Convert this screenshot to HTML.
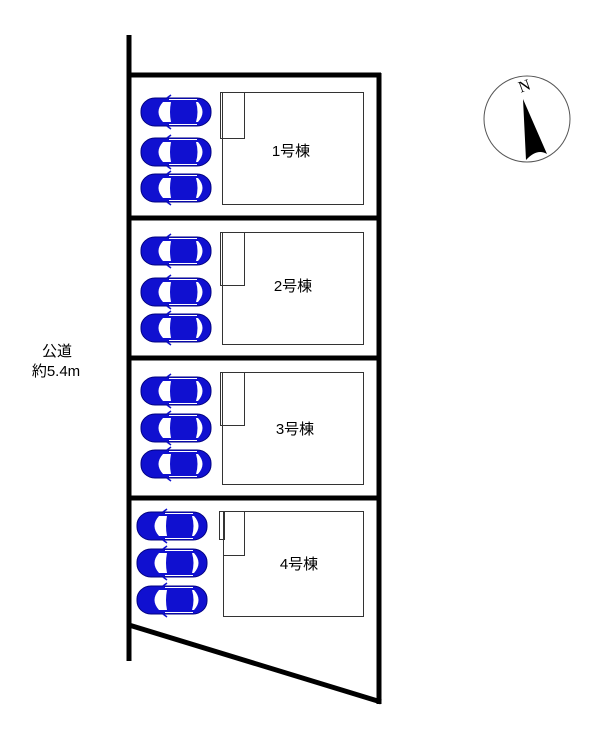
<!DOCTYPE html>
<html><head><meta charset="utf-8"><style>
body{margin:0;background:#fff;}
svg{display:block;}
text{font-family:"Liberation Sans","Noto Sans CJK JP",sans-serif;fill:#000;}
</style></head><body>
<svg width="607" height="741" viewBox="0 0 607 741" xmlns="http://www.w3.org/2000/svg">
<defs>
<g id="car">
  <rect x="0" y="-14" width="70" height="28" rx="14" ry="13" fill="#1010d0" stroke="#000080" stroke-width="1"/>
  <path d="M22,-10 Q13,0 22,10 L30,10 Q28,0 30,-10 Z" fill="#fff"/>
  <path d="M57,-10 Q66,0 57,10 L55,10 Q58,0 55,-10 Z" fill="#fff"/>
  <line x1="28" y1="-12.5" x2="56" y2="-12.5" stroke="#fff" stroke-width="1"/>
  <line x1="28" y1="12.5" x2="56" y2="12.5" stroke="#fff" stroke-width="1"/>
  <path d="M26,-14 L30,-17 M26,14 L30,17" stroke="#1010d0" stroke-width="1.5"/>
</g>
</defs>
<g stroke="#000" stroke-width="5" fill="none">
  <line x1="129" y1="35" x2="129" y2="661"/>
  <line x1="129" y1="75" x2="381" y2="75"/>
  <line x1="379" y1="73" x2="379" y2="704"/>
  <line x1="129" y1="218" x2="381" y2="218"/>
  <line x1="129" y1="358" x2="381" y2="358"/>
  <line x1="129" y1="498" x2="381" y2="498"/>
  <line x1="129" y1="625" x2="381" y2="702"/>
</g>
<g stroke="#333" stroke-width="1" fill="none">
  <rect x="222.5" y="92.5" width="141" height="112"/>
  <rect x="220.5" y="92.5" width="24" height="46"/>
  <rect x="222.5" y="232.5" width="141" height="112"/>
  <rect x="220.5" y="232.5" width="24" height="53"/>
  <rect x="222.5" y="372.5" width="141" height="112"/>
  <rect x="220.5" y="372.5" width="24" height="53"/>
  <rect x="223.5" y="511.5" width="140" height="105"/>
  <rect x="219.5" y="511.5" width="5" height="28"/>
  <polyline points="223.5,555.5 244.5,555.5 244.5,511.5"/>
</g>
<g font-size="15" text-anchor="middle">
  <text x="291" y="156">1号棟</text>
  <text x="293" y="291">2号棟</text>
  <text x="295" y="434">3号棟</text>
  <text x="299" y="569">4号棟</text>
</g>
<use href="#car" x="141" y="112"/>
<use href="#car" x="141" y="152"/>
<use href="#car" x="141" y="188"/>
<use href="#car" x="141" y="251"/>
<use href="#car" x="141" y="292"/>
<use href="#car" x="141" y="328"/>
<use href="#car" x="141" y="391"/>
<use href="#car" x="141" y="428"/>
<use href="#car" x="141" y="464"/>
<use href="#car" x="137" y="526"/>
<use href="#car" x="137" y="563"/>
<use href="#car" x="137" y="600"/>
<text x="57" y="356" font-size="15" text-anchor="middle">公道</text>
<text x="56" y="376" font-size="15" text-anchor="middle">約5.4m</text>
<circle cx="527" cy="119" r="43" fill="none" stroke="#555" stroke-width="1"/>
<text x="519" y="93" font-size="16" transform="rotate(-20 519 88)" style="font-family:'Liberation Serif',serif">N</text>
<path d="M523,99 L547,154 Q537,148 526,160 Z" fill="#000"/>
</svg>
</body></html>
